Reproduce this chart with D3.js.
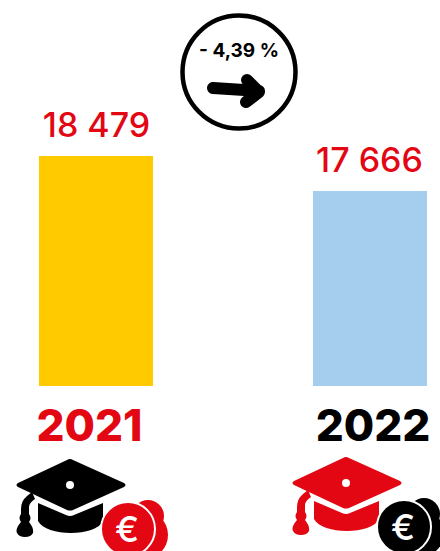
<!DOCTYPE html>
<html>
<head>
<meta charset="utf-8">
<script src="https://cdn.jsdelivr.net/npm/d3@7"></script>
<style>
  html, body { margin: 0; padding: 0; background: #fff; }
  svg { display: block; }
  text { font-family: Inter, "Open Sans", sans-serif; }
</style>
</head>
<body>
<svg id="chart" width="440" height="551"></svg>
<script>
const years = ["2021", "2022"];
const values = [18479, 17666];
const valueLabels = ["18 479", "17 666"];
const barColors = ["#ffcb00", "#a5cdee"];
const yearColors = ["#e30613", "#000000"];
const capColors = ["#000000", "#e30613"];
const coinColors = ["#e30613", "#000000"];
const evolutionLabel = "- 4,39 %";

const svg = d3.select("#chart");

const x = d3.scaleBand().domain(years).range([39, 427]).paddingInner(0.584);
// l'axe ne part pas de zero dans l'original
const y = d3.scaleLinear().domain([13136, 18479]).range([386, 156]);

// barres
svg.selectAll(".bar")
    .data(years)
    .enter().append("rect")
    .attr("class", "bar")
    .attr("x", d => x(d))
    .attr("y", (d, i) => y(values[i]))
    .attr("width", x.bandwidth())
    .attr("height", (d, i) => 386 - y(values[i]))
    .attr("fill", (d, i) => barColors[i]);

// valeurs au dessus des barres
svg.selectAll(".value")
    .data(years)
    .enter().append("text")
    .attr("class", "value")
    .attr("x", (d, i) => x(d) + x.bandwidth() / 2 + (i === 0 ? 0.5 : -0.5))
    .attr("y", (d, i) => y(values[i]) - 19)
    .attr("text-anchor", "middle")
    .attr("font-size", 34)
    .attr("font-weight", 500)
    .attr("fill", "#e30613")
    .text((d, i) => valueLabels[i]);

// annees
svg.selectAll(".year")
    .data(years)
    .enter().append("text")
    .attr("class", "year")
    .attr("x", d => x(d) + x.bandwidth() / 2 - (d === "2021" ? 6.5 : -3))
    .attr("y", 441)
    .attr("text-anchor", "middle")
    .attr("font-size", 44)
    .attr("font-weight", 800)
    .attr("fill", (d, i) => yearColors[i])
    .text(d => d);

// cercle d'evolution
const badge = svg.append("g").attr("transform", "translate(239,72)");
badge.append("circle")
    .attr("r", 56.5)
    .attr("fill", "#fff")
    .attr("stroke", "#000")
    .attr("stroke-width", 4.5);
badge.append("text")
    .attr("y", -15)
    .attr("text-anchor", "middle")
    .attr("font-size", 19)
    .attr("font-weight", 700)
    .attr("fill", "#000")
    .text(evolutionLabel);
badge.append("path")
    .attr("d", "M-26,16 L20,19 M8,8 L20,20 L7,30")
    .attr("fill", "none")
    .attr("stroke", "#000")
    .attr("stroke-width", 12)
    .attr("stroke-linecap", "round")
    .attr("stroke-linejoin", "round");

// icone toque + piece
function drawIcon(g, capColor, coinColor) {
    // dessus de la toque
    g.append("path")
        .attr("d", "M-1,-39 Q2,-41 5,-39 L56,-16 Q59,-14 56,-12 L5,11 Q2,12 -1,11 L-50,-12 Q-53,-14 -50,-16 Z")
        .attr("fill", capColor);
    g.append("circle").attr("cx", 2).attr("cy", -14).attr("r", 4).attr("fill", "#fff");
    // base de la toque
    g.append("path")
        .attr("d", "M-30,4 L-2,16 Q2,18 6,16 L35,4 L35,22 C28,38 -22,38 -30,22 Z")
        .attr("fill", capColor);
    // pompon
    g.append("path")
        .attr("d", "M-36,-7 L-41,-3 Q-47,2 -47,10 L-47,15 Q-50,19 -47,23 Q-53,30 -51,34 Q-49,38 -43,38 Q-37,38 -35,34 Q-34,29 -39,23 Q-36,19 -39,15 L-39,8 Q-39,4 -33,0 Z")
        .attr("fill", capColor);
    // pieces
    g.append("circle").attr("cx", 80).attr("cy", 17).attr("r", 16).attr("fill", coinColor);
    g.append("circle").attr("cx", 76).attr("cy", 36).attr("r", 24).attr("fill", coinColor);
    g.append("circle").attr("cx", 60).attr("cy", 30).attr("r", 27).attr("fill", coinColor).attr("stroke", "#fff").attr("stroke-width", 2);
    g.append("text")
        .attr("x", 59)
        .attr("y", 43)
        .attr("text-anchor", "middle")
        .attr("font-size", 36)
        .attr("font-weight", 500)
        .attr("fill", "#fff")
        .text("€");
}

drawIcon(svg.append("g").attr("transform", "translate(68,499)"), capColors[0], coinColors[0]);
drawIcon(svg.append("g").attr("transform", "translate(344,497)"), capColors[1], coinColors[1]);
</script>
</body>
</html>
